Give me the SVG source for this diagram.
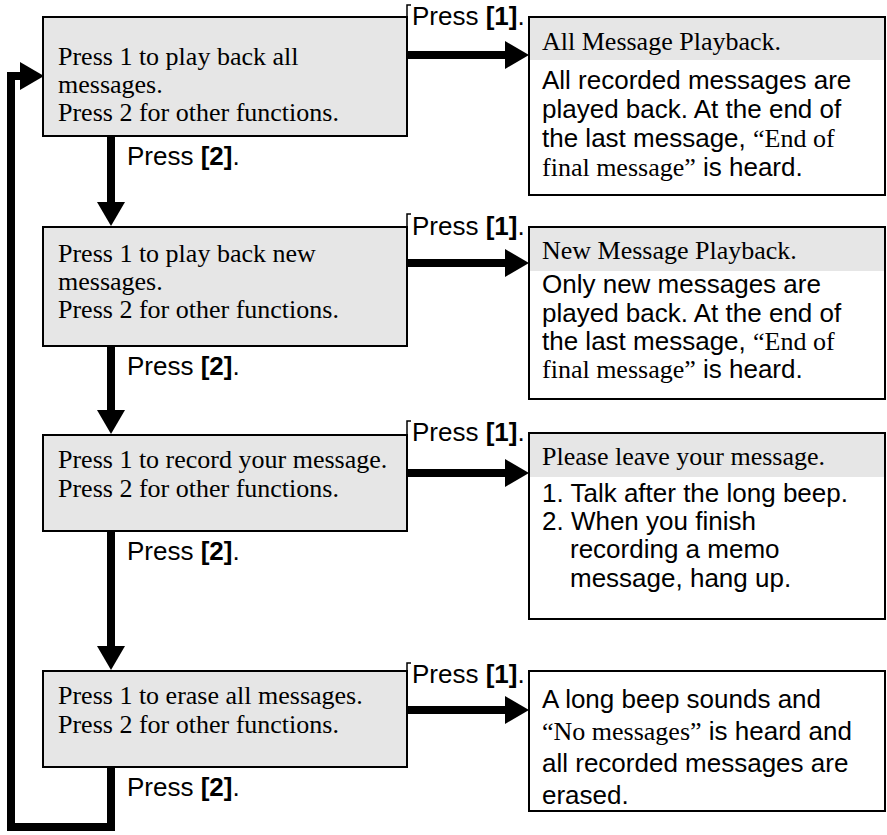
<svg xmlns="http://www.w3.org/2000/svg" width="887" height="835" viewBox="0 0 887 835">
<style>
.box{fill:#e6e6e6;stroke:#000;stroke-width:2}
.rbox{fill:#fff;stroke:#000;stroke-width:2}
.hdr{fill:#e6e6e6}
.serif{font-family:"Liberation Serif","Times New Roman",serif;font-size:26px;fill:#000}
.sans{font-family:"Liberation Sans",Arial,sans-serif;font-size:26px;fill:#000}
.b{font-weight:bold}
.conn{fill:none;stroke:#000;stroke-width:8;stroke-linejoin:miter}
.tick{fill:none;stroke:#000;stroke-width:1.5}
</style>
<defs>
<marker id="ah" markerUnits="userSpaceOnUse" markerWidth="24" markerHeight="28" refX="0" refY="14" orient="auto" viewBox="0 0 24 28">
<path d="M0,0 L24,14 L0,28 Z" fill="#000"/>
</marker>
</defs>
<rect width="887" height="835" fill="#fff"/>

<g id="connectors">
<line class="conn" x1="407" y1="55" x2="505" y2="55" marker-end="url(#ah)"/>
<line class="conn" x1="407" y1="263" x2="505" y2="263" marker-end="url(#ah)"/>
<line class="conn" x1="407" y1="473" x2="505" y2="473" marker-end="url(#ah)"/>
<line class="conn" x1="407" y1="710" x2="505" y2="710" marker-end="url(#ah)"/>
<line class="conn" x1="111" y1="136" x2="111" y2="202" marker-end="url(#ah)"/>
<line class="conn" x1="111" y1="346" x2="111" y2="410" marker-end="url(#ah)"/>
<line class="conn" x1="111" y1="531" x2="111" y2="646" marker-end="url(#ah)"/>
<path class="conn" d="M111,767 V827 H11 V76 H20" marker-end="url(#ah)"/>
<path class="tick" d="M407,17 V5 H411"/>
<path class="tick" d="M407,227 V214 H411"/>
<path class="tick" d="M407,435 V421 H411"/>
<path class="tick" d="M407,671 V663 H411"/>
<text class="sans" x="412" y="25">Press <tspan class="b">[1]</tspan>.</text>
<text class="sans" x="412" y="235">Press <tspan class="b">[1]</tspan>.</text>
<text class="sans" x="412" y="441">Press <tspan class="b">[1]</tspan>.</text>
<text class="sans" x="412" y="683">Press <tspan class="b">[1]</tspan>.</text>
<text class="sans" x="127" y="165">Press <tspan class="b">[2]</tspan>.</text>
<text class="sans" x="127" y="375">Press <tspan class="b">[2]</tspan>.</text>
<text class="sans" x="127" y="560">Press <tspan class="b">[2]</tspan>.</text>
<text class="sans" x="127" y="796">Press <tspan class="b">[2]</tspan>.</text>
</g>

<g id="menu1">
<rect class="box" x="43" y="17" width="364" height="119"/>
<text class="serif" x="58" y="65">Press 1 to play back all</text>
<text class="serif" x="58" y="93">messages.</text>
<text class="serif" x="58" y="121">Press 2 for other functions.</text>
</g>

<g id="menu2">
<rect class="box" x="43" y="227" width="364" height="119"/>
<text class="serif" x="58" y="262">Press 1 to play back new</text>
<text class="serif" x="58" y="290">messages.</text>
<text class="serif" x="58" y="318">Press 2 for other functions.</text>
</g>

<g id="menu3">
<rect class="box" x="43" y="435" width="364" height="96"/>
<text class="serif" x="58" y="468">Press 1 to record your message.</text>
<text class="serif" x="58" y="497">Press 2 for other functions.</text>
</g>

<g id="menu4">
<rect class="box" x="43" y="671" width="364" height="96"/>
<text class="serif" x="58" y="704">Press 1 to erase all messages.</text>
<text class="serif" x="58" y="733">Press 2 for other functions.</text>
</g>

<g id="result1">
<rect class="rbox" x="529" y="17" width="356" height="178"/>
<rect class="hdr" x="530" y="18" width="354" height="42"/>
<text class="serif" x="542" y="50">All Message Playback.</text>
<text class="sans" x="542" y="89">All recorded messages are</text>
<text class="sans" x="542" y="118">played back. At the end of</text>
<text class="sans" x="542" y="147">the last message, <tspan class="serif">“End of</tspan></text>
<text class="sans" x="542" y="176"><tspan class="serif">final message”</tspan> is heard.</text>
</g>

<g id="result2">
<rect class="rbox" x="529" y="227" width="356" height="172"/>
<rect class="hdr" x="530" y="228" width="354" height="43"/>
<text class="serif" x="542" y="259">New Message Playback.</text>
<text class="sans" x="542" y="293">Only new messages are</text>
<text class="sans" x="542" y="322">played back. At the end of</text>
<text class="sans" x="542" y="350">the last message, <tspan class="serif">“End of</tspan></text>
<text class="sans" x="542" y="378"><tspan class="serif">final message”</tspan> is heard.</text>
</g>

<g id="result3">
<rect class="rbox" x="529" y="433" width="356" height="186"/>
<rect class="hdr" x="530" y="434" width="354" height="43"/>
<text class="serif" x="542" y="465">Please leave your message.</text>
<text class="sans" x="542" y="502">1. Talk after the long beep.</text>
<text class="sans" x="542" y="530">2. When you finish</text>
<text class="sans" x="570" y="558">recording a memo</text>
<text class="sans" x="570" y="587">message, hang up.</text>
</g>

<g id="result4">
<rect class="rbox" x="529" y="671" width="356" height="140"/>
<text class="sans" x="542" y="708">A long beep sounds and</text>
<text class="sans" x="542" y="740"><tspan class="serif">“No messages”</tspan> is heard and</text>
<text class="sans" x="542" y="772">all recorded messages are</text>
<text class="sans" x="542" y="804">erased.</text>
</g>
</svg>
